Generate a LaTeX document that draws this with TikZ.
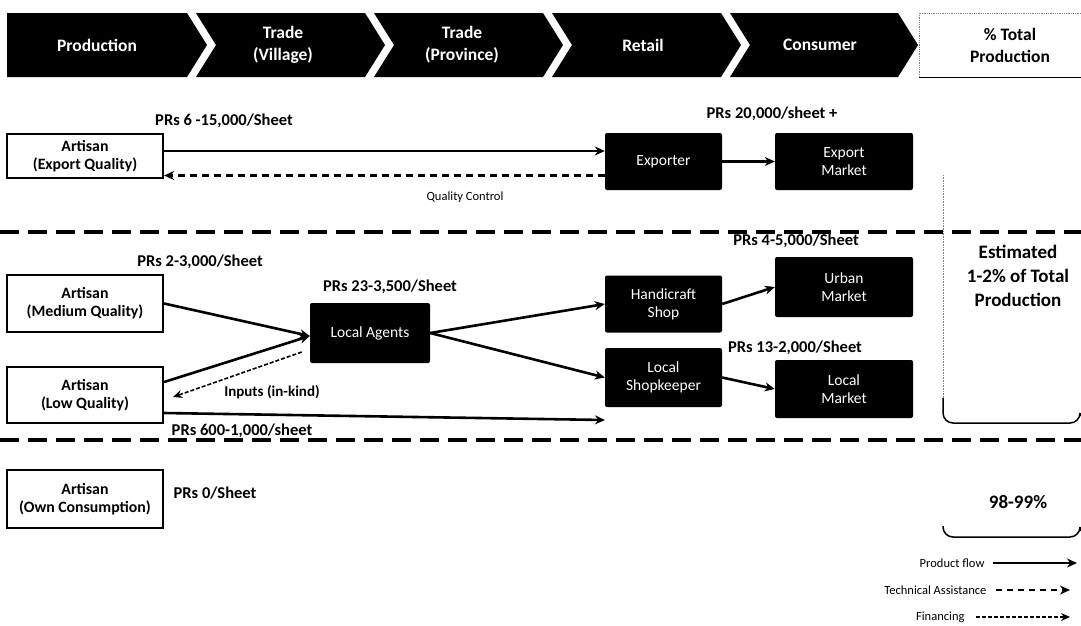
\documentclass[tikz,border=0pt]{standalone}
\usepackage{fontspec}
\setmainfont{Carlito}
\usetikzlibrary{arrows.meta,calc}
\begin{document}
\begin{tikzpicture}[x=1pt,y=-1pt,
  bx/.style={draw=black, line width=2.2pt, fill=white, minimum width=156pt,
    align=center, font=\bfseries\fontsize{15.8}{18}\selectfont, inner sep=2pt},
  dk/.style={fill=black, rounded corners=2pt, text=white, align=center,
    font=\fontsize{15.5}{18}\selectfont, inner sep=2pt},
  price/.style={font=\bfseries\fontsize{16.5}{20}\selectfont},
  head/.style={text=white, align=center, font=\bfseries\fontsize{17.5}{22}\selectfont},
  share/.style={align=center, font=\bfseries\fontsize{19}{24}\selectfont},
  legend/.style={anchor=east, font=\fontsize{12.5}{14}\selectfont},
  flow/.style={line width=2.6pt, -{Stealth[length=10pt,width=9pt]}},
  tech/.style={line width=2.3pt, dash pattern=on 7pt off 5pt, -{Stealth[length=10pt,width=9pt]}},
  fin/.style={line width=1.6pt, dash pattern=on 4pt off 2pt, -{Stealth[length=9pt,width=8pt]}},
  sep/.style={line width=3.5pt, dash pattern=on 19pt off 9pt},
]
\useasboundingbox (0,0) rectangle (1081,625);

% value-chain stages across the top
\fill (7,13) -- (187,13) -- (207,45) -- (187,77) -- (7,77) -- cycle;
\foreach \l/\r in {196/365, 374/543, 552/721, 730/898}
  \fill (\l,13) -- (\r,13) -- (\r+20,45) -- (\r,77) -- (\l,77) -- (\l+20,45) -- cycle;
\node[head] (hprod) at (97,45) {Production};
\node[head] (hvil)  at (283,45) {Trade\\(Village)};
\node[head] (hprov) at (462,45) {Trade\\(Province)};
\node[head] (hret)  at (643,45) {Retail};
\node[head] (hcon)  at (820,45) {Consumer};
\draw[gray, densely dotted, line width=0.8pt] (1081,13) -- (919,13) -- (919,77);
\draw[line width=0.8pt] (919,77) -- (1081,77);
\node[head, text=black] (htot) at (1010,45) {\% Total\\Production};

% export tier
\node[price] (p1) at (224,121) {PRs 6 -15,000/Sheet};
\node[bx, minimum height=44pt] (aexp) at (85,156) {Artisan\\(Export Quality)};
\node[dk, minimum width=117pt, minimum height=57pt] (exp) at (663.5,161.5) {Exporter};
\node[dk, minimum width=138pt, minimum height=57pt] (expm) at (844,161.5) {Export\\Market};
\node[price] (p2) at (772,114) {PRs 20,000/sheet +};
\draw[flow] ([yshift=5pt]aexp.east) -- ([yshift=5pt]aexp.east -| exp.west);
\draw[tech] ([yshift=-14pt]exp.west) -- ([yshift=-14pt]exp.west -| aexp.east);
\node[font=\fontsize{12.5}{14}\selectfont] (qc) at (465,197) {Quality Control};
\draw[flow] (exp.east) -- (expm.west);

\draw[sep] (0,232) -- (1081,232);

% domestic tier
\node[price] (p3) at (200,262) {PRs 2-3,000/Sheet};
\node[bx, minimum height=57pt] (amed) at (85,303.5) {Artisan\\(Medium Quality)};
\node[bx, minimum height=56pt] (alow) at (85,395) {Artisan\\(Low Quality)};
\node[price] (p4) at (390,287) {PRs 23-3,500/Sheet};
\node[dk, minimum width=120pt, minimum height=60pt] (agt) at (370,333) {Local Agents};
\node[dk, minimum width=117pt, minimum height=57pt] (shop) at (663.5,304) {Handicraft\\Shop};
\node[dk, minimum width=117pt, minimum height=59pt] (keep) at (663.5,377.5) {Local\\Shopkeeper};
\node[dk, minimum width=138pt, minimum height=60pt] (urb) at (844,287) {Urban\\Market};
\node[dk, minimum width=138pt, minimum height=58pt] (lmk) at (844,389) {Local\\Market};
\node[price] (p5) at (796,241) {PRs 4-5,000/Sheet};
\node[price] (p6) at (795,348) {PRs 13-2,000/Sheet};
\node[price] (p7) at (242,431) {PRs 600-1,000/sheet};
\node[font=\bfseries\fontsize{15}{17}\selectfont] (inp) at (272,392) {Inputs (in-kind)};
\coordinate (lowend) at (605,420);

\draw[flow] (amed.east) -- ([yshift=-3pt]agt.west);
\draw[flow] ([yshift=13pt]alow.east) -- ([yshift=-3pt]agt.west);
\draw[fin] ([xshift=-8pt,yshift=-19pt]agt.west) -- ([xshift=9pt,yshift=-2pt]alow.east);
\draw[flow] (agt.east) -- (shop.west);
\draw[flow] (agt.east) -- (keep.west);
\draw[flow] ([yshift=-18pt]alow.east) -- (lowend);
\draw[flow] (shop.east) -- (urb.west);
\draw[flow] (keep.east) -- (lmk.west);

\node[share] (est) at (1018,276) {Estimated\\1-2\% of Total\\Production};
\draw[gray, densely dotted, line width=0.6pt] (943,175) -- (943,400);
\draw[line width=1.5pt, rounded corners=10pt] (943,398) -- (943,423) -- (1080,423) -- (1080,416);

\draw[sep] (0,440) -- (1081,440);

% own-consumption tier
\node[bx, minimum height=58pt] (aown) at (85,499) {Artisan\\(Own Consumption)};
\node[price] (p8) at (215,493) {PRs 0/Sheet};
\node[share] (rest) at (1018,502) {98-99\%};
\draw[line width=1.5pt, rounded corners=10pt] (943,526) -- (943,537) -- (1080,537) -- (1080,531);

% legend
\node[legend] (lg1) at (988,563) {Product flow};
\coordinate (lg1e) at (1077,563);
\draw[flow] ([xshift=5pt]lg1.east) -- (lg1e);
\node[legend] (lg2) at (990,590) {Technical Assistance};
\coordinate (lg2e) at (1070,590);
\draw[tech, line width=1.6pt, dash pattern=on 6pt off 5pt] ([xshift=6pt]lg2.east) -- (lg2e);
\node[legend] (lg3) at (968,617) {Financing};
\coordinate (lg3e) at (1070,617);
\draw[fin, line width=1.3pt] ([xshift=8pt]lg3.east) -- (lg3e);
\end{tikzpicture}
\end{document}
